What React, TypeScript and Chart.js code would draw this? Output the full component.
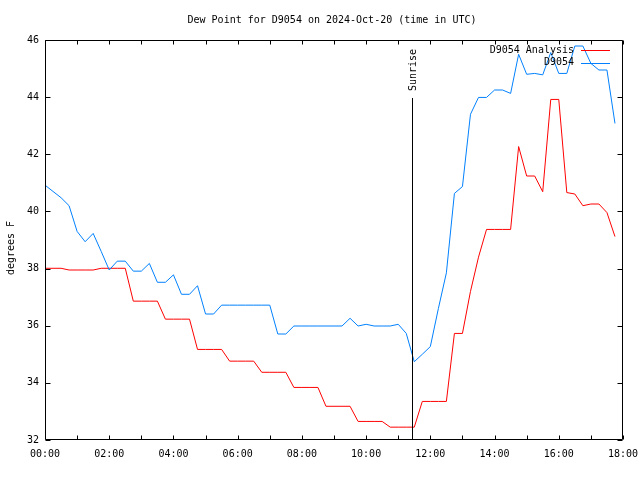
import React, { useEffect, useRef } from "react";
import { Chart, registerables } from "chart.js";

Chart.register(...registerables);

const titleText = "Dew Point for D9054 on 2024-Oct-20 (time in UTC)";
const yAxisLabel = "degrees F";
const sunriseLabel = "Sunrise";
const sunriseTime = "11:26";

const times = [
  "00:00", "00:15", "00:30", "00:45", "01:00", "01:15", "01:30", "01:45",
  "02:00", "02:15", "02:30", "02:45", "03:00", "03:15", "03:30", "03:45",
  "04:00", "04:15", "04:30", "04:45", "05:00", "05:15", "05:30", "05:45",
  "06:00", "06:15", "06:30", "06:45", "07:00", "07:15", "07:30", "07:45",
  "08:00", "08:15", "08:30", "08:45", "09:00", "09:15", "09:30", "09:45",
  "10:00", "10:15", "10:30", "10:45", "11:00", "11:15", "11:30", "11:45",
  "12:00", "12:15", "12:30", "12:45", "13:00", "13:15", "13:30", "13:45",
  "14:00", "14:15", "14:30", "14:45", "15:00", "15:15", "15:30", "15:45",
  "16:00", "16:15", "16:30", "16:45", "17:00", "17:15", "17:30", "17:45",
];

const analysisName = "D9054 Analysis";
const analysis = [
  38.01, 38.01, 38.01, 37.95, 37.95, 37.95, 37.95, 38.01,
  38.01, 38.01, 38.01, 36.86, 36.86, 36.86, 36.86, 36.23,
  36.23, 36.23, 36.23, 35.17, 35.17, 35.17, 35.17, 34.76,
  34.76, 34.76, 34.76, 34.37, 34.37, 34.37, 34.37, 33.84,
  33.84, 33.84, 33.84, 33.18, 33.18, 33.18, 33.18, 32.65,
  32.65, 32.65, 32.65, 32.45, 32.45, 32.45, 32.45, 33.35,
  33.35, 33.35, 33.35, 35.73, 35.73, 37.2, 38.4, 39.37,
  39.37, 39.37, 39.37, 42.27, 41.24, 41.24, 40.69, 43.92,
  43.92, 40.66, 40.61, 40.2, 40.26, 40.26, 39.96, 39.12,
];

const observedName = "D9054";
const observed = [
  40.92, 40.7, 40.48, 40.2, 39.3, 38.94, 39.23, 38.6,
  37.95, 38.26, 38.26, 37.91, 37.91, 38.18, 37.52, 37.52,
  37.78, 37.1, 37.1, 37.4, 36.41, 36.41, 36.72, 36.72,
  36.72, 36.72, 36.72, 36.72, 36.72, 35.71, 35.71, 35.99,
  35.99, 35.99, 35.99, 35.99, 35.99, 35.99, 36.26, 35.99,
  36.05, 35.99, 35.99, 35.99, 36.05, 35.73, 34.74, 35.0,
  35.27, 36.6, 37.85, 40.63, 40.87, 43.4, 43.99, 43.99,
  44.25, 44.25, 44.13, 45.5, 44.8, 44.83, 44.78, 45.56,
  44.83, 44.83, 45.79, 45.79, 45.18, 44.95, 44.95, 43.08,
];

const xTickLabels = ["00:00", "02:00", "04:00", "06:00", "08:00", "10:00", "12:00", "14:00", "16:00", "18:00"];
const yTickLabels = ["32", "34", "36", "38", "40", "42", "44", "46"];

const RED = "#ff0000";
const BLUE = "rgb(0,128,255)";
const FONT = "10px 'DejaVu Sans Mono', monospace";

const toHours = (s: string) => {
  const [h, m] = s.split(":").map(Number);
  return h + m / 60;
};

const xMin = toHours(xTickLabels[0]);
const xMax = toHours(xTickLabels[xTickLabels.length - 1]);
const yMin = Number(yTickLabels[0]);
const yMax = Number(yTickLabels[yTickLabels.length - 1]);

const decorPlugin = {
  id: "decor",
  afterDraw(chart: any) {
    const { ctx, chartArea: a, scales } = chart;
    const xs = scales.x;
    const ys = scales.y;
    ctx.save();
    ctx.strokeStyle = "#000";
    ctx.lineWidth = 1;
    const L = Math.round(a.left) + 0.5;
    const R = Math.round(a.right) - 0.5;
    const T = Math.round(a.top) + 0.5;
    const B = Math.round(a.bottom) - 0.5;
    ctx.beginPath();
    ctx.rect(L, T, R - L, B - T);
    ctx.stroke();
    ctx.beginPath();
    for (let h = xMin; h <= xMax; h += 1) {
      const px = Math.round(xs.getPixelForValue(h)) + 0.5;
      ctx.moveTo(px, B);
      ctx.lineTo(px, B - 4);
      ctx.moveTo(px, T);
      ctx.lineTo(px, T + 4);
    }
    yTickLabels.forEach((lab) => {
      const py = Math.round(ys.getPixelForValue(Number(lab))) + 0.5;
      ctx.moveTo(L, py);
      ctx.lineTo(L + 5, py);
      ctx.moveTo(R, py);
      ctx.lineTo(R - 5, py);
    });
    ctx.stroke();

    const sx = Math.round(xs.getPixelForValue(toHours(sunriseTime))) + 0.5;
    ctx.beginPath();
    ctx.moveTo(sx, a.top + 58);
    ctx.lineTo(sx, B);
    ctx.stroke();

    ctx.fillStyle = "#000";
    ctx.font = FONT;
    ctx.textBaseline = "middle";

    ctx.save();
    ctx.translate(sx + 1, a.top + 30);
    ctx.rotate(-Math.PI / 2);
    ctx.textAlign = "center";
    ctx.fillText(sunriseLabel, 0, 0);
    ctx.restore();

    ctx.textAlign = "center";
    ctx.fillText(titleText, (a.left + a.right) / 2 - 2, 20.5);

    ctx.save();
    ctx.translate(11.5, (a.top + a.bottom) / 2 + 8);
    ctx.rotate(-Math.PI / 2);
    ctx.textAlign = "center";
    ctx.fillText(yAxisLabel, 0, 0);
    ctx.restore();

    const entries = [
      { name: analysisName, color: RED, y: a.top + 10 },
      { name: observedName, color: BLUE, y: a.top + 22.5 },
    ];
    entries.forEach((e) => {
      ctx.fillStyle = "#000";
      ctx.textAlign = "right";
      ctx.fillText(e.name, a.right - 49, e.y);
      ctx.strokeStyle = e.color;
      ctx.beginPath();
      const ly = Math.round(e.y) + 0.5;
      ctx.moveTo(a.right - 42, ly);
      ctx.lineTo(a.right - 13, ly);
      ctx.stroke();
    });
    ctx.restore();
  },
};

export default function App() {
  const canvasRef = useRef<HTMLCanvasElement | null>(null);

  useEffect(() => {
    const canvas = canvasRef.current;
    if (!canvas) return;
    const xVals = times.map(toHours);
    const chart = new Chart(canvas, {
      type: "line",
      data: {
        datasets: [
          {
            label: analysisName,
            data: xVals.map((x, i) => ({ x, y: analysis[i] })),
            borderColor: RED,
            backgroundColor: RED,
            borderWidth: 1,
            pointRadius: 0,
            tension: 0,
            order: 1,
          },
          {
            label: observedName,
            data: xVals.map((x, i) => ({ x, y: observed[i] })),
            borderColor: BLUE,
            backgroundColor: BLUE,
            borderWidth: 1,
            pointRadius: 0,
            tension: 0,
            order: 0,
          },
        ],
      },
      options: {
        responsive: false,
        maintainAspectRatio: false,
        devicePixelRatio: 1,
        animation: false,
        events: [],
        layout: { padding: { top: 40, right: 17, left: 0, bottom: 0 } },
        plugins: {
          legend: { display: false },
          title: { display: false },
          tooltip: { enabled: false },
        },
        scales: {
          x: {
            type: "linear",
            min: xMin,
            max: xMax,
            grid: { display: false, drawTicks: false },
            border: { display: false },
            ticks: {
              stepSize: 2,
              autoSkip: false,
              maxRotation: 0,
              padding: 8,
              color: "#000",
              font: { family: "'DejaVu Sans Mono', monospace", size: 10 },
              callback: (v: any) => {
                const idx = xTickLabels.findIndex((l) => toHours(l) === Number(v));
                return idx >= 0 ? xTickLabels[idx] : "";
              },
            },
            afterFit: (scale: any) => {
              scale.height = 40;
              scale.paddingLeft = 0;
              scale.paddingRight = 0;
            },
          },
          y: {
            min: yMin,
            max: yMax,
            grid: { display: false, drawTicks: false },
            border: { display: false },
            ticks: {
              stepSize: 2,
              padding: 6,
              color: "#000",
              font: { family: "'DejaVu Sans Mono', monospace", size: 10 },
              callback: (v: any) => {
                const idx = yTickLabels.findIndex((l) => Number(l) === Number(v));
                return idx >= 0 ? yTickLabels[idx] : "";
              },
            },
            afterFit: (scale: any) => {
              scale.width = 45;
              scale.paddingTop = 0;
              scale.paddingBottom = 0;
            },
          },
        },
      },
      plugins: [decorPlugin],
    });
    return () => chart.destroy();
  }, []);

  return (
    <div style={{ position: "absolute", left: 0, top: 0, width: 640, height: 480, background: "#fff" }}>
      <canvas ref={canvasRef} width={640} height={480} />
    </div>
  );
}
